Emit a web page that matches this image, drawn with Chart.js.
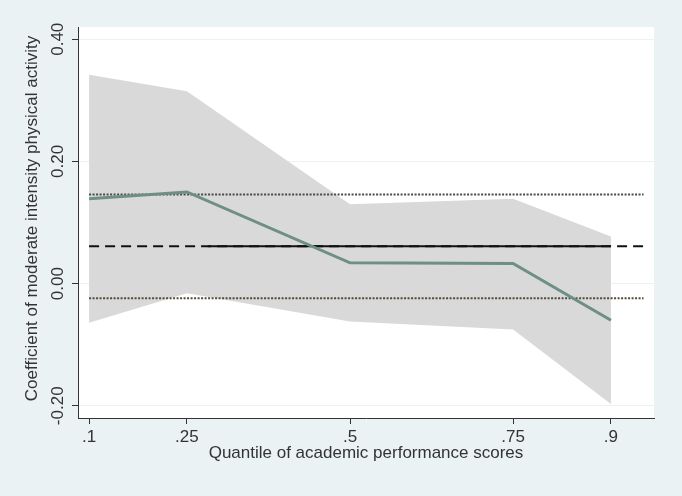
<!DOCTYPE html>
<html>
<head>
<meta charset="utf-8">
<script src="https://cdn.jsdelivr.net/npm/chart.js@4/dist/chart.umd.min.js"></script>
<style>
  html, body { margin: 0; padding: 0; background: #EAF2F3; }
  #wrap { width: 682px; height: 496px; }
</style>
</head>
<body>
<div id="wrap"><canvas id="qreg" width="682" height="496"></canvas></div>
<script>
// Quantile regression estimates
const quantiles = [0.1, 0.25, 0.5, 0.75, 0.9];
const coef = [0.139, 0.150, 0.034, 0.033, -0.060];
const ciUpper = [0.342, 0.315, 0.130, 0.139, 0.077];
const ciLower = [-0.064, -0.016, -0.062, -0.075, -0.197];

// OLS estimate and its confidence bounds (horizontal lines)
const olsSpan = [0.1, 0.95];
const olsSolidSpan = [0.282, 0.9];
const olsCoef = 0.061;
const olsUpper = 0.146;
const olsLower = -0.024;

const xTicks = [0.1, 0.25, 0.5, 0.75, 0.9];
const xTickLabels = ['.1', '.25', '.5', '.75', '.9'];
const yTicks = [-0.2, 0, 0.2, 0.4];
const yTickLabels = ['-0.20', '0.00', '0.20', '0.40'];

const xTitle = 'Quantile of academic performance scores';
const yTitle = 'Coefficient of moderate intensity physical activity';

const FONT = '"Liberation Sans", Arial, sans-serif';
const TEXT = '#333333';

const pts = (xs, ys) => xs.map((x, i) => ({ x, y: ys[i] }));
const flat = (xs, v) => xs.map(x => ({ x, y: v }));

// Stata-like frame: light graph region, white plot region, rotated y labels
const stataFrame = {
    id: 'stataFrame',
    beforeDraw(chart) {
        const { ctx, chartArea: a } = chart;
        ctx.save();
        ctx.fillStyle = '#EAF2F3';
        ctx.fillRect(0, 0, chart.width, chart.height);
        ctx.fillStyle = '#FFFFFF';
        ctx.fillRect(a.left, a.top, a.right - a.left, a.bottom - a.top);
        ctx.restore();
    },
    afterDraw(chart) {
        const { ctx, chartArea: a } = chart;
        const y = chart.scales.y;
        ctx.save();
        ctx.fillStyle = TEXT;
        ctx.font = '17px ' + FONT;
        ctx.textAlign = 'center';
        ctx.textBaseline = 'middle';

        yTicks.forEach((v, i) => {
            ctx.save();
            ctx.translate(58, y.getPixelForValue(v));
            ctx.rotate(-Math.PI / 2);
            ctx.fillText(yTickLabels[i], 0, 0);
            ctx.restore();
        });

        ctx.save();
        ctx.translate(32, (a.top + a.bottom) / 2 - 4);
        ctx.rotate(-Math.PI / 2);
        ctx.fillText(yTitle, 0, 0);
        ctx.restore();

        ctx.fillText(xTitle, (a.left + a.right) / 2, 453);
        ctx.restore();
    }
};

new Chart(document.getElementById('qreg'), {
    type: 'line',
    data: {
        datasets: [
            {
                label: 'Quantile estimate',
                data: pts(quantiles, coef),
                borderColor: '#6E8F84',
                borderWidth: 3,
                pointRadius: 0,
                tension: 0,
                order: 0
            },
            {
                label: 'OLS',
                data: flat(olsSpan, olsCoef),
                borderColor: '#111111',
                borderWidth: 2,
                borderDash: [10, 6],
                pointRadius: 0,
                order: 2
            },
            {
                label: 'OLS (overlap)',
                data: flat(olsSolidSpan, olsCoef),
                borderColor: '#111111',
                borderWidth: 2,
                pointRadius: 0,
                order: 1
            },
            {
                label: 'OLS upper',
                data: flat(olsSpan, olsUpper),
                borderColor: '#4A4A44',
                borderWidth: 2,
                borderDash: [2, 1.5],
                pointRadius: 0,
                order: 3
            },
            {
                label: 'OLS lower',
                data: flat(olsSpan, olsLower),
                borderColor: '#55493A',
                borderWidth: 2,
                borderDash: [2, 1.5],
                pointRadius: 0,
                order: 3
            },
            {
                label: 'CI upper',
                data: pts(quantiles, ciUpper),
                borderColor: 'rgba(0,0,0,0)',
                backgroundColor: '#D9D9D9',
                borderWidth: 0,
                pointRadius: 0,
                fill: '+1',
                order: 5
            },
            {
                label: 'CI lower',
                data: pts(quantiles, ciLower),
                borderColor: 'rgba(0,0,0,0)',
                borderWidth: 0,
                pointRadius: 0,
                fill: false,
                order: 6
            }
        ]
    },
    options: {
        responsive: false,
        animation: false,
        layout: { padding: { top: 27, right: 28, left: 0, bottom: 0 } },
        plugins: {
            legend: { display: false },
            tooltip: { enabled: false }
        },
        scales: {
            x: {
                type: 'linear',
                min: 0.083,
                max: 0.966,
                afterBuildTicks: (s) => { s.ticks = xTicks.map(v => ({ value: v })); },
                afterFit: (s) => { s.height = 78; },
                grid: { drawOnChartArea: false, tickLength: 6, tickColor: '#333333' },
                border: { display: true, color: '#333333', width: 1 },
                ticks: {
                    color: TEXT,
                    font: { family: FONT, size: 17 },
                    padding: 3,
                    maxRotation: 0,
                    callback: (v) => xTickLabels[xTicks.indexOf(v)] ?? ''
                }
            },
            y: {
                type: 'linear',
                min: -0.22,
                max: 0.42,
                afterBuildTicks: (s) => { s.ticks = yTicks.map(v => ({ value: v })); },
                afterFit: (s) => { s.width = 78; },
                grid: { color: '#EAF2F3', lineWidth: 1, tickLength: 6, tickColor: '#333333' },
                border: { display: true, color: '#333333', width: 1 },
                ticks: { display: false }
            }
        }
    },
    plugins: [stataFrame]
});
</script>
</body>
</html>
